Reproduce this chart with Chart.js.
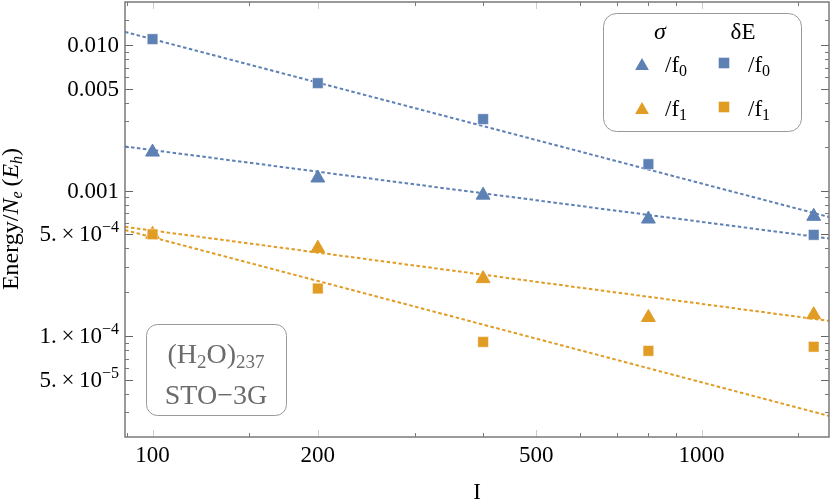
<!DOCTYPE html>
<html>
<head>
<meta charset="utf-8">
<script src="https://cdn.jsdelivr.net/npm/chart.js@4.4.1/dist/chart.umd.min.js"></script>
<style>
  html, body { margin: 0; padding: 0; background: #fff; }
  #wrap { width: 830px; height: 501px; }
</style>
</head>
<body>
<div id="wrap"><canvas id="chart" width="830" height="501"></canvas></div>
<script>
// data
const sizes = [100, 200, 400, 800, 1600];
const sigmaF0 = [0.00184, 0.00122, 0.00093, 0.000637, 0.000665];
const deltaEF0 = [0.0110, 0.00548, 0.0031, 0.00152, 0.000496];
const sigmaF1 = [0.00050, 0.000401, 0.000248, 0.000134, 0.000140];
const deltaEF1 = [0.000500, 0.000212, 0.0000910, 0.0000790, 0.0000843];

// dotted fit lines, values at the two ends of the x axis
const fitEnds = [89.1, 1706];
const fitSigmaF0 = [0.00201, 0.000468];
const fitDeltaEF0 = [0.01233, 0.000658];
const fitSigmaF1 = [0.000563, 0.000127];
const fitDeltaEF1 = [0.000535, 0.0000282];

const xTicks = [100, 200, 500, 1000];
const xMinor = [90, 150, 300, 400, 600, 700, 800, 900, 1500];
const yTicks = [0.01, 0.005, 0.001, 0.0005, 0.0001, 0.00005];
const yTickLabels = [['0.010', ''], ['0.005', ''], ['0.001', ''], ['5.\u2009\u00d7\u200910', '\u22124'], ['1.\u2009\u00d7\u200910', '\u22124'], ['5.\u2009\u00d7\u200910', '\u22125']];
const yMinor = [0.002, 0.003, 0.004, 0.006, 0.007, 0.008, 0.009, 0.015,
  0.0002, 0.0003, 0.0004, 0.0006, 0.0007, 0.0008, 0.0009,
  0.00002, 0.00003, 0.00004, 0.00006, 0.00007, 0.00008, 0.00009];

const blue = '#5e81b5';
const orange = '#e19c24';
const serif = '"Liberation Serif", "DejaVu Serif", serif';

const pts = (ys) => ys.map((y, i) => ({ x: sizes[i], y: y }));
const fit = (ys) => ys.map((y, i) => ({ x: fitEnds[i], y: y }));

function fitLine(ys, color) {
  return {
    data: fit(ys), showLine: true, borderColor: color, borderWidth: 2,
    borderDash: [3.5, 2.5], pointRadius: 0, fill: false, order: 10
  };
}
function markers(ys, color, style, r, ord) {
  return {
    data: pts(ys), showLine: false, pointStyle: style, pointRadius: r,
    backgroundColor: color, borderColor: style === 'rect' ? 'rgba(255,255,255,0.45)' : color,
    pointBorderWidth: 1, order: ord
  };
}

// draws a row of text pieces: {t, s: size, i: italic, dy}
function runText(ctx, parts, x, y, align) {
  let w = 0;
  parts.forEach(p => {
    ctx.font = (p.i ? 'italic ' : '') + p.s + 'px ' + serif;
    p.w = ctx.measureText(p.t).width;
    w += p.w;
  });
  let cx = align === 'right' ? x - w : align === 'center' ? x - w / 2 : x;
  ctx.textAlign = 'left';
  ctx.textBaseline = 'alphabetic';
  parts.forEach(p => {
    ctx.font = (p.i ? 'italic ' : '') + p.s + 'px ' + serif;
    ctx.fillText(p.t, cx, y + (p.dy || 0));
    cx += p.w;
  });
}

function roundBox(ctx, x, y, w, h, r) {
  ctx.beginPath();
  ctx.roundRect(x, y, w, h, r);
  ctx.fillStyle = '#fff';
  ctx.fill();
  ctx.strokeStyle = '#999';
  ctx.lineWidth = 1;
  ctx.stroke();
}

function marker(ctx, style, color, x, y) {
  ctx.fillStyle = color;
  ctx.beginPath();
  if (style === 'triangle') {
    ctx.moveTo(x, y - 8);
    ctx.lineTo(x + 6.9, y + 4);
    ctx.lineTo(x - 6.9, y + 4);
    ctx.closePath();
  } else {
    ctx.rect(x - 5.3, y - 5.3, 10.6, 10.6);
  }
  ctx.fill();
}

const framePlugin = {
  id: 'frame',
  beforeDatasetsDraw(chart) {
    const { ctx, chartArea: a, scales } = chart;
    const xs = scales.x, ys = scales.y;
    ctx.save();
    // minor ticks
    ctx.strokeStyle = '#777';
    ctx.lineWidth = 1;
    ctx.beginPath();
    xMinor.forEach(v => {
      const px = Math.round(xs.getPixelForValue(v)) + 0.5;
      ctx.moveTo(px, a.bottom); ctx.lineTo(px, a.bottom - 4);
      ctx.moveTo(px, a.top); ctx.lineTo(px, a.top + 4);
    });
    yMinor.forEach(v => {
      const py = Math.round(ys.getPixelForValue(v)) + 0.5;
      if (py < a.top || py > a.bottom) return;
      ctx.moveTo(a.left, py); ctx.lineTo(a.left + 4, py);
      ctx.moveTo(a.right, py); ctx.lineTo(a.right - 4, py);
    });
    ctx.stroke();
    // major ticks
    ctx.strokeStyle = '#ccc';
    ctx.beginPath();
    xTicks.forEach(v => {
      const px = Math.round(xs.getPixelForValue(v)) + 0.5;
      ctx.moveTo(px, a.bottom); ctx.lineTo(px, a.bottom - 7);
      ctx.moveTo(px, a.top); ctx.lineTo(px, a.top + 7);
    });
    ctx.stroke();
    ctx.strokeStyle = '#666';
    ctx.beginPath();
    yTicks.forEach(v => {
      const py = Math.round(ys.getPixelForValue(v)) + 0.5;
      ctx.moveTo(a.left, py); ctx.lineTo(a.left + 8, py);
      ctx.moveTo(a.right, py); ctx.lineTo(a.right - 8, py);
    });
    ctx.stroke();
    ctx.restore();
  },
  afterDraw(chart) {
    const { ctx, chartArea: a, scales } = chart;
    const xs = scales.x, ys = scales.y;
    ctx.save();
    // frame
    ctx.strokeStyle = '#7a7a7a';
    ctx.lineWidth = 1.5;
    ctx.strokeRect(a.left, a.top, a.right - a.left, a.bottom - a.top);

    // tick labels
    ctx.fillStyle = '#000';
    xTicks.forEach(v => {
      runText(ctx, [{ t: String(v), s: 23 }], xs.getPixelForValue(v), a.bottom + 25, 'center');
    });
    yTicks.forEach((v, i) => {
      const py = ys.getPixelForValue(v);
      const [m, e] = yTickLabels[i];
      const parts = [{ t: m, s: 23 }];
      if (e) parts.push({ t: e, s: 16, dy: -9 });
      runText(ctx, parts, a.left - 6, py + 7, 'right');
    });

    // axis titles
    runText(ctx, [{ t: 'I', s: 23 }], (a.left + a.right) / 2, 499, 'center');
    ctx.save();
    ctx.translate(18, 219);
    ctx.rotate(-Math.PI / 2);
    runText(ctx, [
      { t: 'Energy/', s: 24 }, { t: 'N', s: 24, i: true }, { t: 'e', s: 16, i: true, dy: 4 },
      { t: '\u2009(', s: 24 }, { t: 'E', s: 24, i: true }, { t: 'h', s: 16, i: true, dy: 4 }, { t: ')', s: 24 }
    ], 0, 0, 'center');
    ctx.restore();

    // legend
    roundBox(ctx, 603.5, 13.5, 198, 118, 13);
    ctx.fillStyle = '#000';
    runText(ctx, [{ t: '\u03c3', s: 24, i: true }], 660, 39, 'center');
    runText(ctx, [{ t: '\u03b4E', s: 23 }], 743, 39, 'center');
    const rows = [[blue, '0', 65, 72], [orange, '1', 109, 116]];
    rows.forEach(([c, sub, my, ty]) => {
      marker(ctx, 'triangle', c, 642, my + 1);
      marker(ctx, 'rect', c, 724, my - 2);
      ctx.fillStyle = '#000';
      runText(ctx, [{ t: '/f', s: 23 }, { t: sub, s: 16, dy: 4 }], 665, ty, 'left');
      runText(ctx, [{ t: '/f', s: 23 }, { t: sub, s: 16, dy: 4 }], 748, ty, 'left');
    });

    // annotation box
    roundBox(ctx, 146.5, 324.5, 140, 91, 11);
    ctx.fillStyle = '#6b6b6b';
    runText(ctx, [
      { t: '(H', s: 28 }, { t: '2', s: 19, dy: 5 }, { t: 'O)', s: 28 }, { t: '237', s: 19, dy: 5 }
    ], 216, 363, 'center');
    runText(ctx, [{ t: 'STO\u22123G', s: 28 }], 216, 404, 'center');
    ctx.restore();
  }
};

new Chart(document.getElementById('chart'), {
  type: 'scatter',
  data: {
    datasets: [
      markers(deltaEF1, orange, 'rect', 7.5, 1),
      markers(sigmaF1, orange, 'triangle', 8, 2),
      markers(deltaEF0, blue, 'rect', 7.5, 3),
      markers(sigmaF0, blue, 'triangle', 8, 4),
      fitLine(fitDeltaEF0, blue),
      fitLine(fitSigmaF0, blue),
      fitLine(fitSigmaF1, orange),
      fitLine(fitDeltaEF1, orange)
    ]
  },
  options: {
    responsive: false,
    animation: false,
    events: [],
    layout: { autoPadding: false, padding: { left: 125, right: 1, top: 2, bottom: 64 } },
    plugins: { legend: { display: false }, tooltip: { enabled: false } },
    scales: {
      x: {
        type: 'logarithmic', min: fitEnds[0], max: fitEnds[1],
        afterBuildTicks: (s) => { s.ticks = xTicks.map(v => ({ value: v })); },
        ticks: { display: false }, grid: { display: false, drawTicks: false }, border: { display: false }
      },
      y: {
        type: 'logarithmic', min: 0.0000202, max: 0.0198,
        afterBuildTicks: (s) => { s.ticks = yTicks.map(v => ({ value: v })); },
        ticks: { display: false }, grid: { display: false, drawTicks: false }, border: { display: false }
      }
    }
  },
  plugins: [framePlugin]
});
</script>
</body>
</html>
